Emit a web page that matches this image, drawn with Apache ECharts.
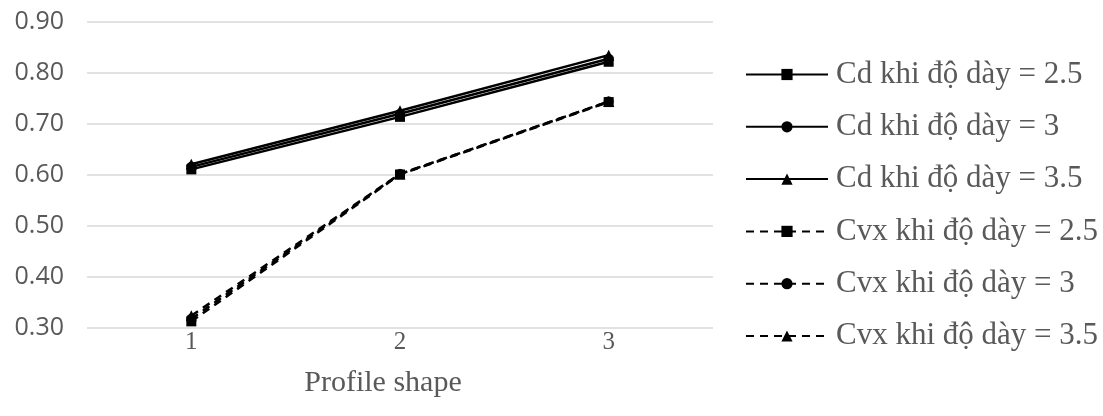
<!DOCTYPE html>
<html>
<head>
<meta charset="utf-8">
<script src="https://cdn.jsdelivr.net/npm/echarts@6/dist/echarts.min.js"></script>
<style>
  html, body { margin: 0; padding: 0; background: #fff; }
  #chart { width: 1103px; height: 416px; }
</style>
</head>
<body>
<div id="chart"></div>
<script>
// Profile shape categories on the x axis
const categories = ['1', '2', '3'];

// Discharge coefficient (Cd) for each thickness
const cd25 = [0.611, 0.714, 0.822];
const cd30 = [0.616, 0.720, 0.828];
const cd35 = [0.621, 0.726, 0.835];

// Cvx coefficient for each thickness
const cvx25 = [0.313, 0.601, 0.743];
const cvx30 = [0.318, 0.602, 0.744];
const cvx35 = [0.324, 0.602, 0.744];

const seriesNames = [
  'Cd khi độ dày = 2.5',
  'Cd khi độ dày = 3',
  'Cd khi độ dày = 3.5',
  'Cvx khi độ dày = 2.5',
  'Cvx khi độ dày = 3',
  'Cvx khi độ dày = 3.5'
];

const serif = '"Liberation Serif", "DejaVu Serif", serif';
const sans = '"Open Sans", "Liberation Sans", sans-serif';

function makeSeries(name, data, symbol, dashed, size) {
  return {
    name: name,
    type: 'line',
    data: data,
    symbol: symbol,
    symbolSize: size,
    showSymbol: true,
    lineStyle: {
      color: '#000',
      width: 2.5,
      type: dashed ? [8, 6] : 'solid'
    },
    itemStyle: { color: '#000' },
    emphasis: { disabled: true },
    animation: false
  };
}

const chart = echarts.init(document.getElementById('chart'));
chart.setOption({
  backgroundColor: '#fff',
  animation: false,
  grid: { left: 87, right: 390, top: 22, bottom: 88 },
  xAxis: {
    type: 'category',
    data: categories,
    boundaryGap: true,
    name: 'Profile shape',
    nameLocation: 'middle',
    nameGap: 40,
    nameTextStyle: {
      fontFamily: serif, fontSize: 30, color: '#595959',
      padding: [0, 34, 0, 0]
    },
    axisLine: { show: false },
    axisTick: { show: false },
    axisLabel: { fontFamily: serif, fontSize: 25, color: '#595959', margin: 2 }
  },
  yAxis: {
    type: 'value',
    min: 0.3,
    max: 0.9,
    interval: 0.1,
    axisLine: { show: false },
    axisTick: { show: false },
    axisLabel: {
      fontFamily: sans, fontSize: 25, color: '#595959', margin: 23,
      formatter: v => v.toFixed(2)
    },
    splitLine: { lineStyle: { color: '#d9d9d9', width: 1.5 } }
  },
  legend: {
    orient: 'vertical',
    left: 740,
    top: 54,
    itemWidth: 82,
    itemHeight: 14,
    itemGap: 21.3,
    data: seriesNames,
    textStyle: {
      fontFamily: serif, fontSize: 31, lineHeight: 30, color: '#595959',
      padding: [0, 0, 0, 3]
    }
  },
  series: [
    makeSeries(seriesNames[0], cd25, 'rect', false, 10),
    makeSeries(seriesNames[1], cd30, 'circle', false, 10),
    makeSeries(seriesNames[2], cd35, 'triangle', false, 11),
    makeSeries(seriesNames[3], cvx25, 'rect', true, 10),
    makeSeries(seriesNames[4], cvx30, 'circle', true, 10),
    makeSeries(seriesNames[5], cvx35, 'triangle', true, 11)
  ]
});
</script>
</body>
</html>
